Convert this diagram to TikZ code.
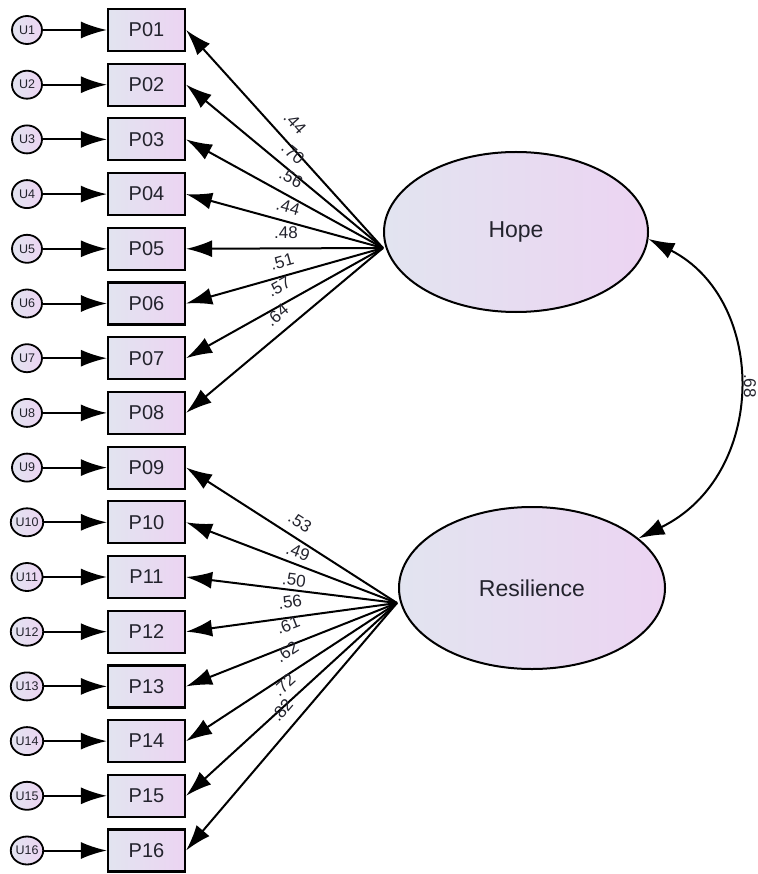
\documentclass[tikz,border=0pt]{standalone}
\usepackage{fontspec}
\setmainfont{Liberation Sans}
\usetikzlibrary{arrows.meta,shapes.geometric}
\definecolor{fillL}{RGB}{226,228,240}
\definecolor{fillR}{RGB}{236,212,242}
\definecolor{txt}{RGB}{35,35,45}
\begin{document}
\begin{tikzpicture}[x=1pt,y=-1pt,
  ind/.style={draw, line width=2.2pt, minimum width=77pt, minimum height=42pt, left color=fillL, right color=fillR, font=\fontsize{20}{24}\selectfont, text=txt, inner sep=0pt},
  err/.style={ellipse, draw, line width=1.8pt, minimum width=30pt, minimum height=28pt, inner sep=0pt, left color=fillL, right color=fillR, font=\fontsize{12.5}{14}\selectfont, text=txt},
  lat/.style={ellipse, draw, line width=2pt, minimum width=264pt, minimum height=160pt, left color=fillL, right color=fillR, font=\fontsize{23}{27}\selectfont, text=txt},
  arr/.style={line width=2pt, -{Latex[length=26pt,width=17pt]}},
  dbl/.style={line width=2pt, {Latex[length=26pt,width=17pt]}-{Latex[length=26pt,width=17pt]}},
  lbl/.style={font=\fontsize{17}{20}\selectfont, text=txt, inner sep=0pt}
]
\useasboundingbox (0,0) rectangle (757,874);

\foreach \i/\t in {1/P01,2/P02,3/P03,4/P04,5/P05,6/P06,7/P07,8/P08,9/P09,10/P10,11/P11,12/P12,13/P13,14/P14,15/P15,16/P16} {
  \pgfmathsetmacro\yy{30+(\i-1)*54.7}
  \node[ind] (p\i) at (146.5,\yy) {\t};
  \node[err] (u\i) at (27,\yy) {U\i};
  \draw[arr] (u\i) -- (p\i);
}

\node[lat] (hope) at (516,232) {Hope};
\node[lat, minimum width=266pt, minimum height=162pt] (res) at (532,588) {Resilience};

\coordinate (hc) at (383,248);
\coordinate (rc) at (397,603);
\foreach \i in {1,...,8} \draw[arr] (hc) -- (p\i.east);
\foreach \i in {9,...,16} \draw[arr] (rc) -- (p\i.east);

\node[lbl, rotate=-47.8] (l1) at (295,123) {.44};
\node[lbl, rotate=-39.5] (l2) at (293,153) {.70};
\node[lbl, rotate=-28.7] (l3) at (291,178) {.56};
\node[lbl, rotate=-15.2] (l4) at (288,207) {.44};
\node[lbl, rotate=0] (l5) at (286,233) {.48};
\node[lbl, rotate=15.7] (l6) at (282,262) {.51};
\node[lbl, rotate=29.1] (l7) at (279,287) {.57};
\node[lbl, rotate=39.8] (l8) at (277,315) {.64};

\node[lbl, rotate=-32.6] (l9) at (300,522) {.53};
\node[lbl, rotate=-20.8] (l10) at (298,552) {.49};
\node[lbl, rotate=-7] (l11) at (294,580) {.50};
\node[lbl, rotate=7.7] (l12) at (290,602) {.56};
\node[lbl, rotate=21.5] (l13) at (288,625) {.61};
\node[lbl, rotate=33.1] (l14) at (287,652) {.62};
\node[lbl, rotate=42.3] (l15) at (284,685) {.72};
\node[lbl, rotate=49.4] (l16) at (282,710) {.82};

\draw[dbl] (hope.-3) .. controls (768,300) and (768,475) .. (res.25);
\node[lbl, rotate=-90] (cor) at (750,386) {.68};
\end{tikzpicture}
\end{document}
